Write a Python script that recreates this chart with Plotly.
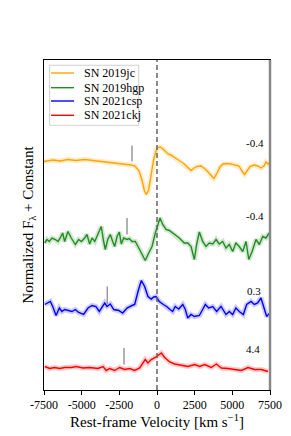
import plotly.graph_objects as go

# ---------------- data ----------------
names = ["SN 2019jc", "SN 2019hgp", "SN 2021csp", "SN 2021ckj"]
colors = ["#FFA500", "#228B22", "#0000FF", "#FF0000"]
phases = ["-0.4", "-0.4", "0.3", "4.4"]

v_2019jc = [-7500, -6900, -6440, -5910, -5380, -4780, -4250, -3580, -2920, -2260, -1730, -1460, -1190, -1000,
            -830, -710, -560, -400, -230, -70, 70, 200, 330, 530, 730, 930, 1190, 1460, 1730, 1920, 2120, 2260,
            2460, 2650, 2920, 3190, 3450, 3650, 3780, 3980, 4180, 4380, 4650, 4910, 5180, 5440, 5640, 5810, 5970,
            6170, 6440, 6700, 6900, 7100, 7230, 7370, 7500]
f_2019jc = [4.57, 4.60, 4.58, 4.61, 4.59, 4.61, 4.59, 4.57, 4.55, 4.53, 4.50, 4.48, 4.38, 4.20, 3.98, 3.91, 4.00,
            4.28, 4.60, 4.78, 4.85, 4.86, 4.84, 4.78, 4.72, 4.70, 4.64, 4.59, 4.54, 4.48, 4.42, 4.39, 4.44, 4.47,
            4.48, 4.42, 4.34, 4.26, 4.23, 4.34, 4.46, 4.52, 4.53, 4.52, 4.50, 4.48, 4.38, 4.31, 4.38, 4.47, 4.50,
            4.48, 4.44, 4.48, 4.56, 4.52, 4.55]

v_2019hgp = [-7450, -7300, -7150, -6970, -6750, -6570, -6420, -6260, -6130, -5910, -5690, -5420, -5200, -5020,
             -4800, -4650, -4470, -4310, -4130, -3980, -3700, -3540, -3430, -3270, -3100, -2940, -2810, -2650,
             -2500, -2370, -2210, -1990, -1840, -1660, -1440, -1210, -1000, -780, -550, -330, -110, 70, 200, 380,
             600, 820, 1150, 1480, 1810, 2040, 2260, 2480, 2630, 2810, 3030, 3250, 3470, 3700, 3920, 4130, 4360,
             4580, 4800, 5020, 5240, 5460, 5690, 5910, 6090, 6310, 6570, 6790, 7020, 7230, 7450]
f_2019hgp = [2.94, 3.01, 2.97, 3.04, 3.01, 2.97, 3.04, 3.14, 2.97, 3.17, 3.04, 2.91, 3.01, 2.97, 3.04, 3.11, 2.92,
             3.04, 2.97, 3.07, 3.27, 2.97, 2.81, 3.01, 3.11, 2.97, 2.87, 3.07, 3.16, 2.92, 3.04, 3.01, 3.03, 2.97,
             2.97, 2.84, 2.71, 2.59, 2.74, 2.87, 3.14, 3.31, 3.44, 3.31, 3.21, 3.19, 3.11, 3.04, 2.94, 2.94, 2.87,
             2.61, 2.91, 3.16, 2.97, 2.87, 2.94, 2.92, 3.01, 2.92, 2.97, 2.84, 2.91, 2.77, 2.94, 2.87, 2.77, 2.97,
             2.61, 2.77, 3.01, 2.91, 3.07, 3.04, 3.14]

v_2021csp = [-7450, -7300, -7080, -6920, -6700, -6480, -6310, -6130, -5910, -5640, -5420, -5200, -4870, -4580,
             -4310, -4050, -3830, -3650, -3470, -3320, -3100, -2870, -2540, -2280, -1990, -1660, -1480, -1260,
             -1040, -820, -600, -380, -220, -70, 150, 420, 640, 860, 1040, 1210, 1440, 1710, 1880, 2040, 2260,
             2480, 2810, 3030, 3210, 3430, 3700, 3960, 4250, 4580, 4800, 5020, 5240, 5460, 5730, 5950, 6240,
             6460, 6680, 6900, 7120, 7280, 7450]
f_2021csp = [1.71, 1.74, 1.77, 1.67, 1.49, 1.64, 1.57, 1.61, 1.59, 1.57, 1.61, 1.55, 1.51, 1.64, 1.69, 1.67, 1.57,
             1.67, 1.74, 1.67, 1.72, 1.61, 1.59, 1.54, 1.64, 1.69, 1.71, 1.97, 2.19, 2.07, 1.87, 1.82, 1.86, 1.87,
             1.77, 1.71, 1.67, 1.61, 1.57, 1.67, 1.62, 1.71, 1.61, 1.44, 1.51, 1.47, 1.49, 1.61, 1.71, 1.64, 1.67,
             1.57, 1.67, 1.51, 1.57, 1.51, 1.64, 1.57, 1.51, 1.71, 1.77, 1.71, 1.74, 1.84, 1.61, 1.47, 1.53]

v_2021ckj = [-7450, -7120, -6790, -6460, -6130, -5690, -5360, -4910, -4470, -3920, -3580, -3370, -3140, -2810,
             -2480, -2140, -1810, -1480, -1150, -930, -780, -600, -380, -110, 110, 290, 510, 840, 1170, 1610,
             2060, 2500, 2830, 3170, 3600, 3940, 4270, 4710, 5160, 5600, 6040, 6480, 6920, 7370]
f_2021ckj = [0.47, 0.43, 0.45, 0.43, 0.45, 0.45, 0.47, 0.44, 0.45, 0.43, 0.47, 0.39, 0.43, 0.39, 0.45, 0.41, 0.43,
             0.39, 0.44, 0.54, 0.61, 0.54, 0.61, 0.65, 0.71, 0.74, 0.65, 0.56, 0.52, 0.49, 0.47, 0.51, 0.47, 0.51,
             0.45, 0.52, 0.44, 0.43, 0.41, 0.39, 0.45, 0.41, 0.41, 0.37]

velocities = [v_2019jc, v_2019hgp, v_2021csp, v_2021ckj]
fluxes = [f_2019jc, f_2019hgp, f_2021csp, f_2021ckj]

# grey line markers (velocity, lower and upper flux)
mark_v = [-1660, -1990, -3300, -2190]
mark_y0 = [4.57, 3.11, 1.71, 0.51]
mark_y1 = [4.89, 3.44, 2.07, 0.84]

# phase labels position
label_v = [6480, 6480, 6460, 6380]
label_y = [4.94, 3.49, 1.99, 0.83]

x_ticks = [-7500, -5000, -2500, 0, 2500, 5000, 7500]
x_ticklabels = ["-7500", "-5000", "-2500", "0", "2500", "5000", "7500"]

# ---------------- figure ----------------
FONT = "Liberation Serif"
fig = go.Figure()

for name, col, v, f in zip(names, colors, velocities, fluxes):
    fig.add_trace(go.Scatter(x=v, y=f, mode="lines", line=dict(color=col, width=5),
                             opacity=0.2, showlegend=False, hoverinfo="skip"))
    fig.add_trace(go.Scatter(x=v, y=f, mode="lines", name=name,
                             line=dict(color=col, width=1.4), showlegend=False))

shapes = []
annotations = []
for mv, y0, y1 in zip(mark_v, mark_y0, mark_y1):
    shapes.append(dict(type="line", xref="x", yref="y", x0=mv, x1=mv, y0=y0, y1=y1,
                       line=dict(color="#999999", width=1.5)))
for lv, ly, txt in zip(label_v, label_y, phases):
    annotations.append(dict(x=lv, y=ly, xref="x", yref="y", text=txt, showarrow=False,
                            font=dict(family=FONT, size=11, color="black")))

# dashed zero-velocity line
shapes.append(dict(type="line", xref="x", yref="paper", x0=0, x1=0, y0=0, y1=1,
                   line=dict(color="#666666", width=1.5, dash="5px,3px")))
# grey right spine
shapes.append(dict(type="line", xref="paper", yref="paper", x0=1, x1=1, y0=0, y1=1,
                   line=dict(color="#888888", width=2.5)))

# manual legend
shapes.append(dict(type="rect", xref="paper", yref="paper", x0=0.025, x1=0.419, y0=0.802, y1=0.984,
                   line=dict(color="#d0d0d0", width=1), fillcolor="rgba(255,255,255,0.8)"))
leg_y = [0.9606, 0.9161, 0.8758, 0.8324]
for name, col, ly in zip(names, colors, leg_y):
    shapes.append(dict(type="line", xref="paper", yref="paper", x0=0.031, x1=0.133, y0=ly, y1=ly,
                       line=dict(color=col, width=1.4)))
    annotations.append(dict(x=0.168, y=ly, xref="paper", yref="paper", text=name, showarrow=False,
                            xanchor="left", yanchor="middle",
                            font=dict(family=FONT, size=12, color="black")))

fig.update_layout(
    width=291, height=436,
    margin=dict(l=36, r=29, t=52, b=54),
    paper_bgcolor="white", plot_bgcolor="white",
    font=dict(family=FONT, color="black"),
    shapes=shapes, annotations=annotations,
    showlegend=False,
)
fig.update_xaxes(range=[-7500, 7500], tickvals=x_ticks, ticktext=x_ticklabels,
                 ticks="outside", ticklen=3.5, tickwidth=1, tickcolor="black",
                 showline=True, linecolor="black", linewidth=1, mirror=True,
                 showgrid=False, zeroline=False,
                 tickfont=dict(family=FONT, size=12),
                 title=dict(text="Rest-frame Velocity [km s<sup>−1</sup>]",
                            font=dict(family=FONT, size=15), standoff=5))
fig.update_yaxes(range=[0, 6.6], showticklabels=False, ticks="",
                 showline=True, linecolor="black", linewidth=1, mirror=True,
                 showgrid=False, zeroline=False,
                 title=dict(text="Normalized F<sub>λ</sub> + Constant",
                            font=dict(family=FONT, size=15), standoff=5))

fig.write_html("out.html")
